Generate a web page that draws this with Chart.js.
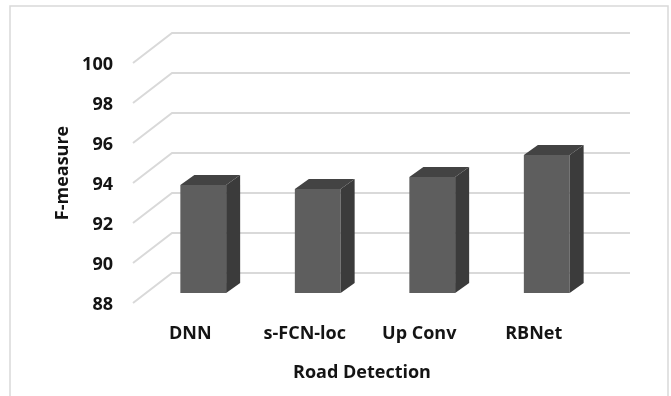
<!DOCTYPE html>
<html>
<head>
<meta charset="utf-8">
<script src="https://cdn.jsdelivr.net/npm/chart.js@4.4.0/dist/chart.umd.min.js"></script>
<style>
  html, body { margin: 0; padding: 0; background: #ffffff; }
  #wrap { width: 671px; height: 396px; position: relative; }
</style>
</head>
<body>
<div id="wrap"><canvas id="chart" width="671" height="396"></canvas></div>
<script>
// Road detection F-measure per method
const categories = ['DNN', 's-FCN-loc', 'Up Conv', 'RBNet'];
const fMeasure = [93.4, 93.2, 93.8, 94.9];
const yTickValues = [88, 90, 92, 94, 96, 98, 100];
const xTitle = 'Road Detection';
const yTitle = 'F-measure';

// Pseudo-3D geometry (pixels)
const BAR_DX = 14, BAR_DY = -10;          // bar depth
const WALL_FRONT = { dx: -13, dy: 10 };   // floor front edge relative to bar face
const WALL_BACK = { dx: 26, dy: -20 };    // back wall relative to bar face

const FONT = { family: "'Open Sans', 'DejaVu Sans', sans-serif", size: 18, weight: 'bold' };
const TEXT_COLOR = '#141414';
const GRID_COLOR = '#d9d9d9';

const depthPlugin = {
  id: 'depthPlugin',
  beforeDraw(chart) {
    const ctx = chart.ctx;
    ctx.save();
    ctx.strokeStyle = GRID_COLOR;
    ctx.lineWidth = 1.5;
    ctx.strokeRect(10, 6, 658, 420);
    ctx.restore();
  },
  beforeDatasetsDraw(chart) {
    const { ctx, chartArea: a, scales: { y } } = chart;
    ctx.save();
    ctx.strokeStyle = GRID_COLOR;
    ctx.lineWidth = 2;
    y.ticks.forEach(t => {
      const py = y.getPixelForValue(t.value);
      ctx.beginPath();
      ctx.moveTo(a.left + WALL_FRONT.dx, py + WALL_FRONT.dy);
      ctx.lineTo(a.left + WALL_BACK.dx, py + WALL_BACK.dy);
      ctx.lineTo(a.right + WALL_BACK.dx, py + WALL_BACK.dy);
      ctx.stroke();
    });
    ctx.restore();
  },
  afterDatasetsDraw(chart) {
    const { ctx, chartArea: a } = chart;
    const meta = chart.getDatasetMeta(0);
    ctx.save();
    meta.data.forEach(bar => {
      const { x, y, width, base } = bar.getProps(['x', 'y', 'width', 'base'], true);
      const bottom = Math.min(base, a.bottom);
      const l = x - width / 2, r = x + width / 2;
      // right side face
      ctx.fillStyle = '#3b3b3b';
      ctx.beginPath();
      ctx.moveTo(r, y);
      ctx.lineTo(r + BAR_DX, y + BAR_DY);
      ctx.lineTo(r + BAR_DX, bottom + BAR_DY);
      ctx.lineTo(r, bottom);
      ctx.closePath();
      ctx.fill();
      // top face
      ctx.fillStyle = '#434343';
      ctx.beginPath();
      ctx.moveTo(l, y);
      ctx.lineTo(l + BAR_DX, y + BAR_DY);
      ctx.lineTo(r + BAR_DX, y + BAR_DY);
      ctx.lineTo(r, y);
      ctx.closePath();
      ctx.fill();
    });
    ctx.restore();
  },
  afterDraw(chart) {
    const { ctx, chartArea: a } = chart;
    ctx.save();
    ctx.fillStyle = TEXT_COLOR;
    ctx.font = `${FONT.weight} ${FONT.size}px ${FONT.family}`;
    ctx.textAlign = 'center';
    ctx.textBaseline = 'middle';
    ctx.fillText(xTitle, (a.left + a.right) / 2 + WALL_FRONT.dx, 373);
    ctx.restore();
  }
};

new Chart(document.getElementById('chart'), {
  type: 'bar',
  data: {
    labels: categories,
    datasets: [{
      label: yTitle,
      data: fMeasure,
      backgroundColor: '#5e5e5e',
      borderWidth: 0,
      categoryPercentage: 1,
      barPercentage: 0.4
    }]
  },
  options: {
    responsive: false,
    animation: false,
    devicePixelRatio: 1,
    layout: { padding: { top: 53, right: 67, bottom: 0, left: 0 } },
    plugins: { legend: { display: false }, tooltip: { enabled: false } },
    scales: {
      x: {
        grid: { display: false, drawTicks: false },
        border: { display: false },
        ticks: { color: TEXT_COLOR, font: FONT, padding: 30, labelOffset: WALL_FRONT.dx, maxRotation: 0 },
        afterFit(scale) { scale.height = 103; }
      },
      y: {
        min: 88,
        max: 100,
        grid: { display: false, drawTicks: false },
        border: { display: false },
        afterBuildTicks(scale) { scale.ticks = yTickValues.map(v => ({ value: v })); },
        ticks: { color: TEXT_COLOR, font: FONT, padding: 33, labelOffset: 12 },
        title: { display: true, text: yTitle, color: TEXT_COLOR, font: FONT, padding: { top: 52, bottom: 0 } },
        afterFit(scale) { scale.width = 146; }
      }
    }
  },
  plugins: [depthPlugin]
});
</script>
</body>
</html>
